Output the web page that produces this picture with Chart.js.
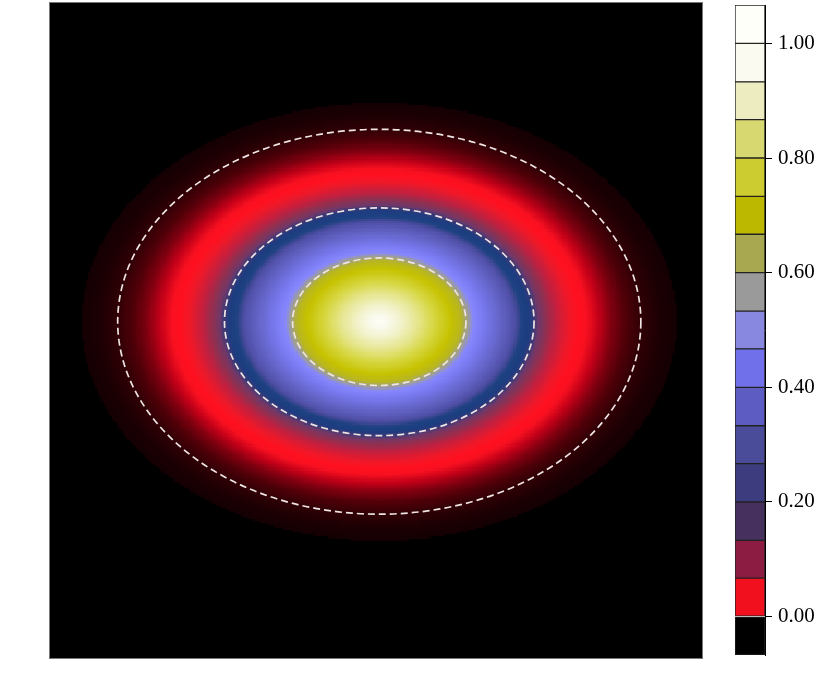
<!DOCTYPE html>
<html>
<head>
<meta charset="utf-8">
<script src="https://cdn.jsdelivr.net/npm/chart.js@4.4.1/dist/chart.umd.min.js"></script>
<style>
  html, body { margin: 0; padding: 0; background: #fff; }
  #wrap { position: relative; width: 830px; height: 696px; }
  #field { position: absolute; left: 0; top: 0; }
  #cbar { position: absolute; left: 720px; top: 0; }
</style>
</head>
<body>
<div id="wrap">
  <canvas id="field" width="720" height="696"></canvas>
  <canvas id="cbar" width="110" height="696"></canvas>
</div>
<script>
// radial colour profile, read along the major axis (rho = 1 on the middle dashed contour)
const profileRho = [0, 0.05, 0.14, 0.245, 0.355, 0.465, 0.53, 0.58, 0.61, 0.68, 0.79, 0.87, 0.9, 0.92,
  0.97, 1.0, 1.03, 1.08, 1.14, 1.23, 1.29, 1.34, 1.42, 1.5, 1.59, 1.69, 1.81, 1.92, 1.925];
const profileColor = ["#fefef6", "#fafaf0", "#f2f2cc", "#e6e690", "#d6d640", "#c6c200", "#b8b620",
  "#9a9aa8", "#8686ff", "#7878ee", "#6262c4", "#5050a8", "#3a4690", "#1e4282",
  "#1c3c80", "#3a3a78", "#703868", "#903050", "#c02040", "#f01828", "#ff1020", "#f81020",
  "#c00018", "#800010", "#500008", "#300005", "#1c0003", "#140003", "#000000"];

// ellipse centre and semi axes (data units) at rho = 1
const fieldCenter = [0.03, 0.08];
const fieldAxes = [1.42, 1.04];
// dashed contour lines, in rho
const contourRho = [0.56, 1.0, 1.69];

// colorbar
const binEdges = [-0.067, 0, 0.067, 0.133, 0.2, 0.267, 0.333, 0.4, 0.467, 0.533,
  0.6, 0.667, 0.733, 0.8, 0.867, 0.933, 1.0, 1.067];
const binColors = ["#000000", "#f0101e", "#8c1c42", "#46305e", "#3c3c7e", "#4a4c9a", "#5c5cc2",
  "#7070ea", "#8888e0", "#9a9a9a", "#a8a850", "#bcb800", "#cccc30", "#d8d870",
  "#ececc0", "#fafaf0", "#fffffa"];
const cbarTicks = [0, 0.2, 0.4, 0.6, 0.8, 1.0];

const rgb = profileColor.map((h) => [1, 3, 5].map((k) => parseInt(h.substr(k, 2), 16)));

function colorAt(rho) {
  for (let i = 1; i < profileRho.length; i++) {
    if (rho <= profileRho[i]) {
      const t = (rho - profileRho[i - 1]) / (profileRho[i] - profileRho[i - 1]);
      const a = rgb[i - 1], b = rgb[i];
      return `rgb(${Math.round(a[0] + (b[0] - a[0]) * t)},${Math.round(a[1] + (b[1] - a[1]) * t)},${Math.round(a[2] + (b[2] - a[2]) * t)})`;
    }
  }
  return null;
}

const step = 0.02;
const fieldPlugin = {
  id: "field",
  beforeDatasetsDraw(chart) {
    const { ctx, chartArea: area, scales: { x, y } } = chart;
    ctx.save();
    ctx.fillStyle = "#000";
    ctx.fillRect(area.left, area.top, area.width, area.height);

    // cells
    for (let xv = x.min; xv < x.max - 1e-9; xv += step) {
      const px0 = Math.round(x.getPixelForValue(xv));
      const px1 = Math.round(x.getPixelForValue(xv + step));
      for (let yv = y.min; yv < y.max - 1e-9; yv += step) {
        const dx = (xv + step / 2 - fieldCenter[0]) / fieldAxes[0];
        const dy = (yv + step / 2 - fieldCenter[1]) / fieldAxes[1];
        const c = colorAt(Math.sqrt(dx * dx + dy * dy));
        if (!c) continue;
        const py0 = Math.round(y.getPixelForValue(yv));
        const py1 = Math.round(y.getPixelForValue(yv + step));
        ctx.fillStyle = c;
        ctx.fillRect(px0, py1, px1 - px0, py0 - py1);
      }
    }

    // dashed contours
    const cx = x.getPixelForValue(fieldCenter[0]);
    const cy = y.getPixelForValue(fieldCenter[1]);
    ctx.strokeStyle = "#eee4e4";
    ctx.lineWidth = 1.7;
    ctx.setLineDash([7, 4]);
    contourRho.forEach((r) => {
      const rx = Math.abs(x.getPixelForValue(fieldCenter[0] + r * fieldAxes[0]) - cx);
      const ry = Math.abs(y.getPixelForValue(fieldCenter[1] + r * fieldAxes[1]) - cy);
      ctx.beginPath();
      ctx.ellipse(cx, cy, rx, ry, 0, 0, Math.PI * 2);
      ctx.stroke();
    });
    ctx.setLineDash([]);

    // frame
    ctx.strokeStyle = "#777";
    ctx.lineWidth = 1;
    ctx.strokeRect(area.left + 0.5, area.top + 0.5, area.width - 1, area.height - 1);
    ctx.restore();
  },
};

new Chart(document.getElementById("field"), {
  type: "scatter",
  data: { datasets: [] },
  options: {
    responsive: false,
    animation: false,
    layout: { padding: { left: 49, top: 2, right: 17, bottom: 37 } },
    plugins: { legend: { display: false }, tooltip: { enabled: false } },
    scales: {
      x: { type: "linear", min: -3, max: 3, display: false },
      y: { type: "linear", min: -3, max: 3, display: false },
    },
  },
  plugins: [fieldPlugin],
});

new Chart(document.getElementById("cbar"), {
  type: "bar",
  data: {
    labels: [""],
    datasets: binColors.map((c, i) => ({
      data: [[binEdges[i], binEdges[i + 1]]],
      backgroundColor: c,
      borderColor: "#222",
      borderWidth: 1,
      borderSkipped: false,
      barPercentage: 1,
      categoryPercentage: 1,
      grouped: false,
    })),
  },
  options: {
    responsive: false,
    animation: false,
    layout: { padding: { left: 15, top: 5, bottom: 41, right: 0 } },
    plugins: { legend: { display: false }, tooltip: { enabled: false } },
    scales: {
      x: { display: false },
      y: {
        position: "right",
        min: binEdges[0],
        max: binEdges[binEdges.length - 1],
        afterBuildTicks: (s) => { s.ticks = cbarTicks.map((v) => ({ value: v })); },
        afterFit: (s) => {
          s.width = 65;
          s.paddingTop = 0;
          s.paddingBottom = 0;
        },
        ticks: {
          callback: (v) => Number(v).toFixed(2),
          color: "#000",
          font: { family: "Liberation Serif", size: 21 },
          padding: 6,
        },
        grid: { drawOnChartArea: false, drawTicks: true, tickLength: 7, color: "#000" },
        border: { display: true, color: "#000" },
      },
    },
  },
});
</script>
</body>
</html>
